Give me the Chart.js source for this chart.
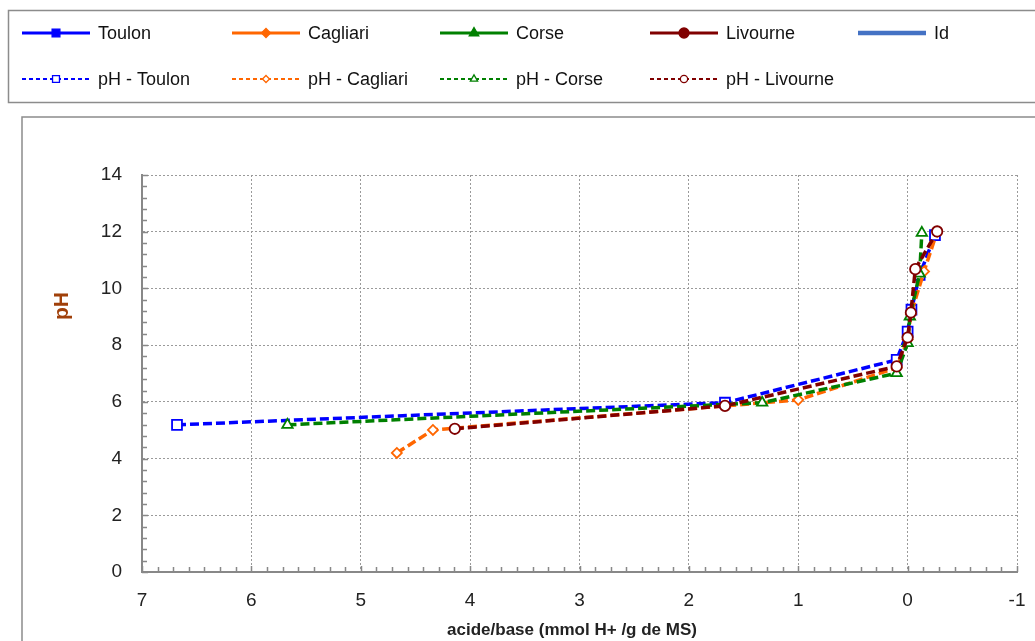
<!DOCTYPE html>
<html>
<head>
<meta charset="utf-8">
<script src="https://cdn.jsdelivr.net/npm/chart.js@4/dist/chart.umd.min.js"></script>
<style>
html,body{margin:0;padding:0;background:#fff;}
#c{display:block;}
</style>
</head>
<body>
<canvas id="c" width="1035" height="641"></canvas>
<script>
// ---- data (acide/base in mmol H+/g de MS, pH) ----
const toulonX   = [6.68, 1.67, 0.10, 0.00, -0.035, -0.11, -0.25];
const toulonY   = [5.19, 5.97, 7.48, 8.48, 9.25, 10.48, 11.88];
const cagliariX = [4.67, 4.34, 1.00, 0.10, 0.00, -0.03, -0.15, -0.27];
const cagliariY = [4.20, 5.01, 6.07, 7.20, 8.20, 9.10, 10.60, 12.00];
const corseX    = [5.67, 1.33, 0.10, 0.00, -0.02, -0.11, -0.13];
const corseY    = [5.19, 5.97, 7.01, 8.07, 9.01, 10.52, 11.96];
const livourneX = [4.14, 1.67, 0.10, 0.00, -0.03, -0.07, -0.27];
const livourneY = [5.05, 5.86, 7.25, 8.27, 9.15, 10.68, 12.01];
const xTicks = [7, 6, 5, 4, 3, 2, 1, 0, -1];
const yTicks = [0, 2, 4, 6, 8, 10, 12, 14];
const seriesNames = ['Toulon', 'Cagliari', 'Corse', 'Livourne', 'Id',
                     'pH - Toulon', 'pH - Cagliari', 'pH - Corse', 'pH - Livourne'];

const pts = (xs, ys) => xs.map((x, i) => ({x: x, y: ys[i]}));
const FONT = '"Liberation Sans", Arial, sans-serif';

const BLUE = '#0000FF', ORANGE = '#FF6600', GREEN = '#008000', DRED = '#800000', IDC = '#4472C4';

function solid(label, color, style, r) {
  return {label, data: [], borderColor: color, backgroundColor: color, pointStyle: style,
          pointRadius: r, showLine: true, legendDash: [], legendWidth: 3, legendFilled: true, order: 10};
}
function dashed(label, data, color, style, r, order) {
  return {label, data, borderColor: color, backgroundColor: '#fff', borderWidth: 3.5,
          borderDash: [9, 4], pointStyle: style, pointRadius: r, pointBorderWidth: 1.8,
          pointBackgroundColor: '#fff', pointBorderColor: color, showLine: true, tension: 0,
          legendDash: [4, 3], legendWidth: 2, legendFilled: false, order};
}

const datasets = [
  solid(seriesNames[0], BLUE, 'rect', 4.5),
  solid(seriesNames[1], ORANGE, 'rectRot', 3.5),
  solid(seriesNames[2], GREEN, 'triangle', 4.5),
  solid(seriesNames[3], DRED, 'circle', 4),
  Object.assign(solid(seriesNames[4], IDC, false, 0), {legendWidth: 4.5}),
  dashed(seriesNames[5], pts(toulonX, toulonY), BLUE, 'rect', 7, 4),
  dashed(seriesNames[6], pts(cagliariX, cagliariY), ORANGE, 'rectRot', 5, 3),
  dashed(seriesNames[7], pts(corseX, corseY), GREEN, 'triangle', 6, 2),
  dashed(seriesNames[8], pts(livourneX, livourneY), DRED, 'circle', 5.2, 1)
];

const deco = {
  id: 'deco',
  beforeDraw(chart) {
    const c = chart.ctx;
    c.save();
    c.fillStyle = '#fff';
    c.fillRect(0, 0, chart.width, chart.height);
    c.strokeStyle = '#8c8c8c';
    c.lineWidth = 1.5;
    c.strokeRect(8.5, 10.5, 1200, 92);
    c.strokeRect(22, 117, 1200, 700);
    c.restore();
  },
  afterDraw(chart) {
    const c = chart.ctx, xs = chart.scales.x, ys = chart.scales.y;
    c.save();
    // inward tick marks
    c.strokeStyle = '#888';
    c.lineWidth = 1.5;
    c.beginPath();
    for (let i = 0; i <= 35; i++) {
      const v = i * 0.4;
      const y = Math.round(ys.getPixelForValue(v)) + 0.5;
      const major = i % 5 === 0;
      c.moveTo(xs.left, y);
      c.lineTo(xs.left + (major ? 6 : 5), y);
    }
    for (let i = 0; i <= 56; i++) {
      const v = -1 + i / 7;
      const x = Math.round(xs.getPixelForValue(v)) + 0.5;
      const major = i % 7 === 0;
      c.moveTo(x, ys.bottom);
      c.lineTo(x, ys.bottom - (major ? 6 : 5));
    }
    c.stroke();
    // axis titles
    c.fillStyle = '#222';
    c.font = 'bold 17px ' + FONT;
    c.textAlign = 'center';
    c.textBaseline = 'middle';
    c.fillText('acide/base (mmol H+ /g de MS)', 572, 630);
    c.save();
    c.translate(62, 306);
    c.rotate(-Math.PI / 2);
    c.fillStyle = '#A0400A';
    c.font = 'bold 21px ' + FONT;
    c.fillText('pH', 0, 0);
    c.restore();
    // legend
    const colX = [22, 232, 440, 650, 858];
    const rowY = [33, 79];
    chart.data.datasets.forEach((ds, i) => {
      const row = i < 5 ? 0 : 1;
      const col = i < 5 ? i : i - 5;
      const x0 = colX[col], y = rowY[row];
      c.save();
      c.strokeStyle = ds.borderColor;
      c.lineWidth = ds.legendWidth;
      c.setLineDash(ds.legendDash);
      c.beginPath();
      c.moveTo(x0, y);
      c.lineTo(x0 + 68, y);
      c.stroke();
      c.setLineDash([]);
      if (ds.pointStyle) {
        c.fillStyle = ds.legendFilled ? ds.borderColor : '#fff';
        c.strokeStyle = ds.borderColor;
        c.lineWidth = 1.3;
        const r = ds.legendFilled ? ds.pointRadius + 1 : Math.max(3.5, ds.pointRadius * 0.7);
        Chart.helpers.drawPoint(c, {pointStyle: ds.pointStyle, radius: r, rotation: 0, borderWidth: 1.3}, x0 + 34, y);
      }
      c.fillStyle = '#111';
      c.font = '18px ' + FONT;
      c.textAlign = 'left';
      c.textBaseline = 'middle';
      c.fillText(ds.label, x0 + 76, y + 1);
      c.restore();
    });
    c.restore();
  }
};

new Chart(document.getElementById('c'), {
  type: 'line',
  data: {datasets},
  options: {
    responsive: false,
    animation: false,
    layout: {padding: {left: 0, top: 175, right: 18, bottom: 0}},
    plugins: {legend: {display: false}, tooltip: {enabled: false}},
    scales: {
      x: {
        type: 'linear', reverse: true, min: -1, max: 7,
        afterFit(s) { s.height = 69; s.paddingLeft = 0; s.paddingRight = 0; },
        afterBuildTicks(s) { s.ticks = xTicks.map(v => ({value: v})); },
        ticks: {stepSize: 1, color: '#222', padding: 17, font: {family: FONT, size: 19}},
        grid: {color: '#9a9a9a', lineWidth: 1, drawTicks: false},
        border: {display: true, color: '#888', width: 2, dash: [2, 2]}
      },
      y: {
        type: 'linear', min: 0, max: 14,
        afterFit(s) { s.width = 142; s.paddingTop = 0; s.paddingBottom = 0; },
        afterBuildTicks(s) { s.ticks = yTicks.map(v => ({value: v})); },
        ticks: {stepSize: 2, color: '#222', padding: 20, font: {family: FONT, size: 19}},
        grid: {color: '#9a9a9a', lineWidth: 1, drawTicks: false},
        border: {display: true, color: '#888', width: 2, dash: [2, 2]}
      }
    }
  },
  plugins: [deco]
});
</script>
</body>
</html>
